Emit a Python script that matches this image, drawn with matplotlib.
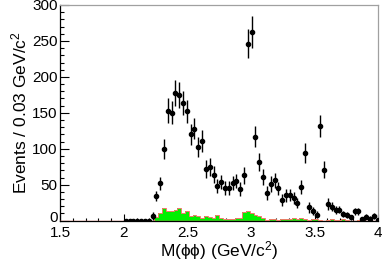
import numpy as np
import matplotlib
matplotlib.use("Agg")
import matplotlib.pyplot as plt
from matplotlib.ticker import MultipleLocator, FixedLocator
from matplotlib.transforms import ScaledTranslation

plt.rcParams['font.family'] = ['Liberation Sans', 'DejaVu Sans']
plt.rcParams['mathtext.fontset'] = 'custom'
plt.rcParams['mathtext.rm'] = 'Liberation Sans'
plt.rcParams['mathtext.it'] = 'Liberation Sans:italic'

# ---- data ----
bin_width = 0.03
first_center = 2.015
counts = [0, 0, 0, 0, 0, 0, 0, 6.5, 34, 52,
          100, 153, 150, 177, 175, 164, 152, 120, 128, 103,
          111, 72, 75, 64, 48, 54, 46, 45, 52, 55,
          44, 63, 246, 262, 117, 81, 61, 38, 51, 56,
          45, 29, 35, 36, 32, 25, 47, 94, 18.5, 14,
          8.5, 132, 71, 23, 19.5, 15, 15, 9, 7.5, 4.5,
          13, 13, 2.5, 5.5, 3, 6.5, 1]
errors = [0, 0, 0, 0, 0, 0, 0, 5.6, 7, 9,
          14, 17, 16, 18, 18, 17, 16, 15, 15, 14,
          15, 12.5, 12.5, 11.5, 9.5, 10, 9.8, 9.8, 10, 10,
          10, 11.5, 20, 22, 15, 12.5, 11.5, 9.8, 10.5, 10,
          9.3, 8.4, 8.8, 8, 8.4, 7, 9.8, 13.5, 7.4, 5.6,
          5, 15.3, 11.6, 7.9, 6, 6, 5, 4.6, 4.2, 3,
          5, 5, 2.3, 3.7, 3, 3.7, 2]
background = [0, 0, 0, 0, 0, 0, 0, 0, 5, 10,
              17, 14, 13, 15, 17, 11, 13, 6, 8, 6,
              4, 6, 5, 4, 8, 4, 3, 2, 3, 4,
              4, 12, 14, 10, 8, 7, 4, 1, 2, 3,
              1, 3, 3, 2, 4, 3, 4, 2, 1, 2,
              3, 1, 0, 1, 2, 1, 1, 2, 1, 0,
              0, 1, 0, 0, 1, 0, 0]
x_ticks = [1.5, 2.0, 2.5, 3.0, 3.5, 4.0]
x_tick_labels = ["1.5", "2", "2.5", "3", "3.5", "4"]
y_ticks = [0, 50, 100, 150, 200, 250, 300]

centers = first_center + bin_width * np.arange(len(counts))
edges = np.append(centers - bin_width / 2, centers[-1] + bin_width / 2)

fig = plt.figure(figsize=(3.82, 2.63), dpi=100)
ax = fig.add_axes([0.158, 0.161, 0.832, 0.820])

# background histogram (green fill, red outline)
ax.stairs(background, edges, fill=True, color='#00f000', zorder=2)
ax.stairs(background, edges, fill=False, color='#f07a6a', lw=0.7, zorder=3)
ax.axhline(0, color='#f07a6a', lw=1.0, zorder=3)

# data points with error bars
counts_a = np.array(counts)
err_a = np.array(errors)
ax.errorbar(centers, counts_a, yerr=err_a, fmt='o', color='black',
            ms=3.0, elinewidth=1.0, capsize=0, zorder=5)

ax.set_xlim(1.5, 4.0)
ax.set_ylim(0, 300)
ax.xaxis.set_major_locator(FixedLocator(x_ticks))
ax.set_xticklabels(x_tick_labels)
ax.xaxis.set_minor_locator(MultipleLocator(0.1))
ax.yaxis.set_major_locator(FixedLocator(y_ticks))
ax.yaxis.set_minor_locator(MultipleLocator(10))

ax.tick_params(axis='both', which='both', direction='in', labelsize=11,
               top=False, right=False)
ax.tick_params(axis='y', which='major', length=6.5, width=0.8, pad=2)
ax.tick_params(axis='y', which='minor', length=3.2, width=0.8)
ax.tick_params(axis='x', which='major', length=5, width=0.8, pad=4)
ax.tick_params(axis='x', which='minor', length=2.5, width=0.8)

for s in ['top', 'right']:
    ax.spines[s].set_color('#a0a0a0')
for s in ['left', 'bottom']:
    ax.spines[s].set_color('black')
for s in ax.spines.values():
    s.set_linewidth(0.9)

ax.set_xlabel('M(ϕϕ) (GeV/c$^{2}$)', fontsize=12.5, labelpad=-1)
ax.set_ylabel('Events / 0.03 GeV/c$^{2}$', fontsize=12.5, labelpad=2)

# nudge the "0" label up a little so it does not touch "1.5"
fig.canvas.draw()
zero_tick = ax.yaxis.get_major_ticks()[0].label1
zero_tick.set_transform(zero_tick.get_transform()
                        + ScaledTranslation(0, 3.0 / 72, fig.dpi_scale_trans))

fig.savefig('out.png', dpi=100)
